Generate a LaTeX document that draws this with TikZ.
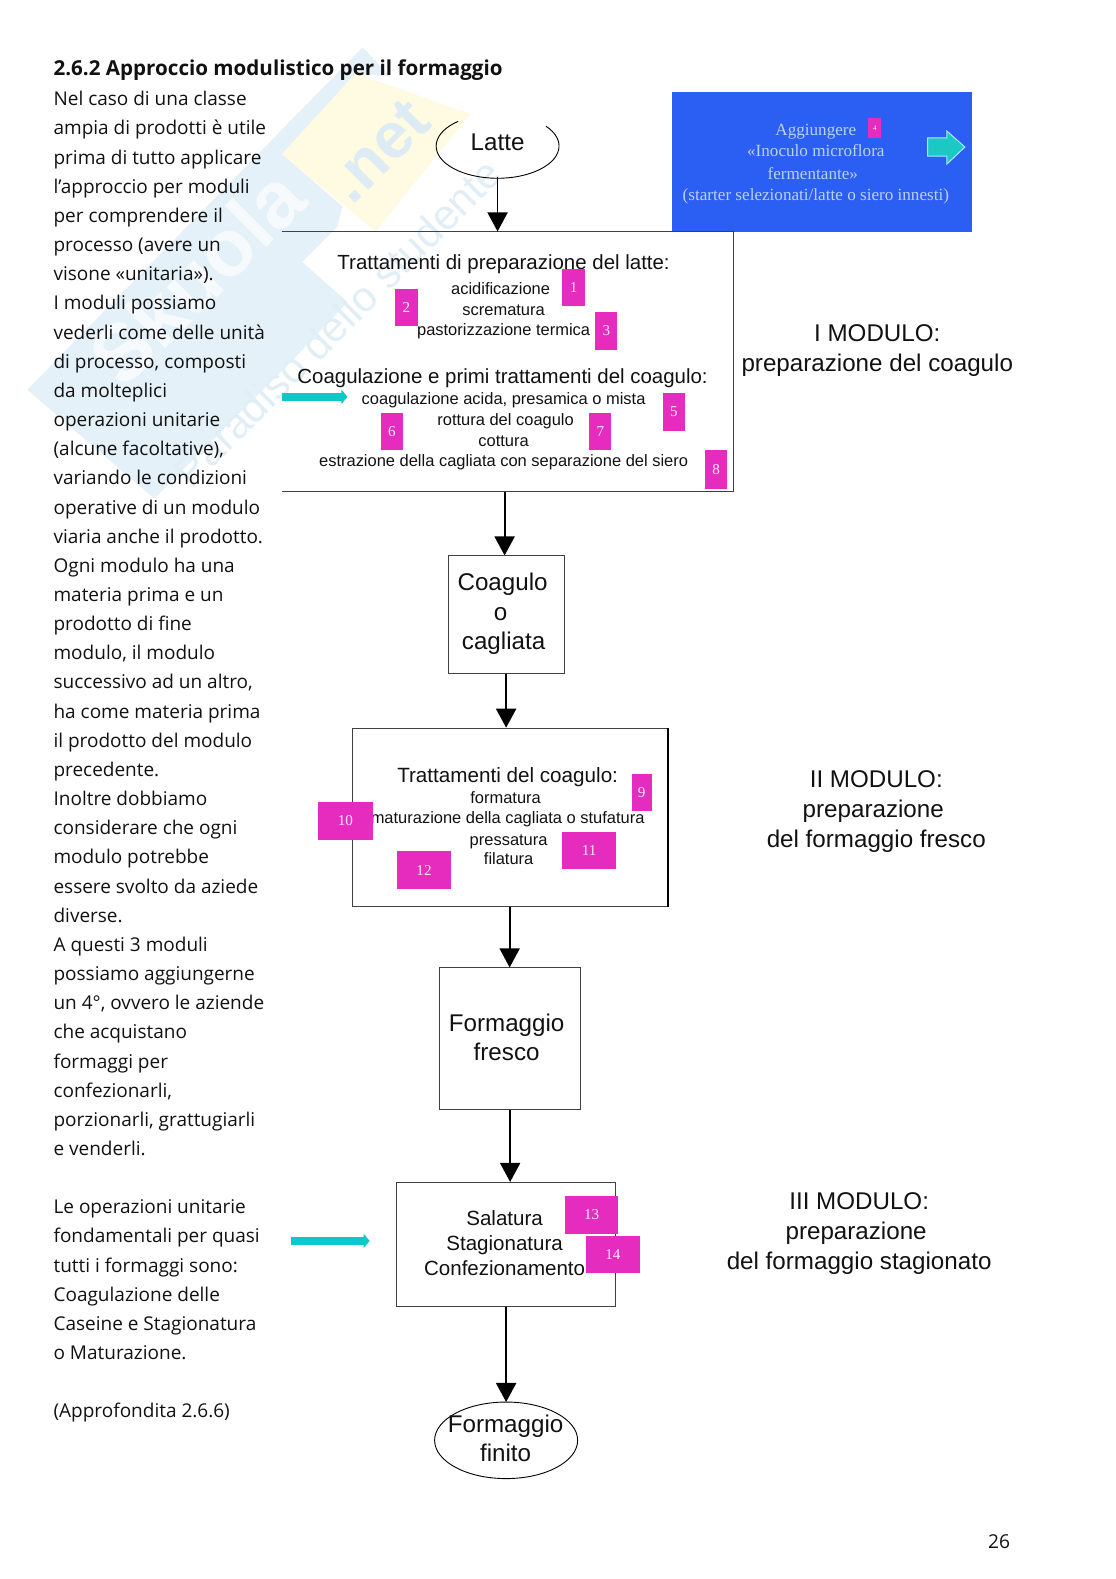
\documentclass[tikz,border=0pt]{standalone}
\usepackage{fontspec}
\setmainfont{Liberation Sans}
\newfontfamily\bodyfont{Open Sans}
\newfontfamily\seriffont{Liberation Serif}
\usetikzlibrary{arrows.meta,calc}
\definecolor{wmblue}{HTML}{E5F1F8}
\definecolor{wmletter}{HTML}{F6FAFD}
\definecolor{wmyellow}{HTML}{FEFBE2}
\definecolor{wmtext}{HTML}{E2EEF6}
\definecolor{wmnetc}{HTML}{DDEBF5}
\definecolor{pink}{HTML}{E62CBF}
\definecolor{panel}{HTML}{2B5EF2}
\definecolor{panelink}{HTML}{BCD2F2}
\definecolor{teal}{HTML}{0CC8C8}
\definecolor{blockarrow}{HTML}{1CC8C4}
\definecolor{ink}{HTML}{111111}
\newcommand{\fs}[1]{\fontsize{#1}{#1}\selectfont}
\tikzset{
 lbl/.style={inner sep=0pt,yshift=-1.8pt,text=ink,text height=0.72*#1pt,text depth=0.2*#1pt,font=\fs{#1}},
 lbl/.default=16.35,
 tag/.style={fill=pink,inner sep=0pt,text=white!90!pink,font=\seriffont\fs{15}},
 flow/.style={draw=black,line width=1.8pt,-{Triangle[length=19pt,width=20pt]}},
 frame/.style={draw=black!75,line width=1pt},
 tealarrow/.style={draw=teal,line width=7.5pt,-{Triangle[length=6pt,width=14pt]}},
 paneltext/.style={inner sep=0pt,yshift=-1.8pt,text=panelink,text height=12pt,text depth=4pt,font=\seriffont\fs{17}},
}
\newcommand{\tagbox}[5]{\node[tag,minimum width=#4-#2,minimum height=#5-#3] (#1) at ({(#2+#4)/2},{(#3+#5)/2}) {#1};}
\begin{document}
\begin{tikzpicture}[x=1pt,y=-1pt]
\useasboundingbox (0,0) rectangle (1108,1567.7);
% watermark
\fill[wmblue] (27,387) -- (360,47) -- (388,76) -- (353,73) -- (280,153) -- (340,205) -- (335,225) -- (300,260) -- (345,300) -- (290,358) -- (153,495) -- cycle;
\fill[wmyellow] (280,153) -- (353,73) -- (467,113) -- (373,230) -- cycle;
\node[rotate=45,font=\bfseries\fs{80},text=wmletter,inner sep=0] (wmname) at (195,275) {Skuola};
\node[rotate=45,font=\bfseries\fs{64},text=wmnetc,inner sep=0] (wmnet) at (376,150) {.net};
\node[rotate=45,font=\fs{42},text=wmtext,inner sep=0] (wmsub) at (335,320) {Paradiso dello studente};
% page text
\node[anchor=west,inner sep=0,font=\bodyfont\bfseries\fs{20.45},text=ink] (title) at (53,70) {2.6.2 Approccio modulistico per il formaggio};
\node[anchor=north west,inner sep=0,align=left,text=ink,font=\bodyfont\fontsize{18.85}{28.95}\selectfont] (body) at (53,90.5) {Nel caso di una classe\\ampia di prodotti è utile\\prima di tutto applicare\\l’approccio per moduli\\per comprendere il\\processo (avere un\\visone «unitaria»).\\I moduli possiamo\\vederli come delle unità\\di processo, composti\\da molteplici\\operazioni unitarie\\(alcune facoltative),\\variando le condizioni\\operative di un modulo\\viaria anche il prodotto.\\Ogni modulo ha una\\materia prima e un\\prodotto di fine\\modulo, il modulo\\successivo ad un altro,\\ha come materia prima\\il prodotto del modulo\\precedente.\\Inoltre dobbiamo\\considerare che ogni\\modulo potrebbe\\essere svolto da aziede\\diverse.\\A questi 3 moduli\\possiamo aggiungerne\\un 4°, ovvero le aziende\\che acquistano\\formaggi per\\confezionarli,\\porzionarli, grattugiarli\\e venderli.\\[28.95pt]Le operazioni unitarie\\fondamentali per quasi\\tutti i formaggi sono:\\Coagulazione delle\\Caseine e Stagionatura\\o Maturazione.\\[28.95pt](Approfondita 2.6.6)};
\node[inner sep=0,text=ink,font=\bodyfont\fs{19}] (pageno) at (992,1531) {26};
% blue panel
\node[fill=panel,inner sep=0,minimum width=298pt,minimum height=139pt] (panel) at (816,160.5) {};
\node[paneltext] (p1) at (810,129) {Aggiungere};
\node[paneltext] (p2) at (810,150) {«Inoculo microflora};
\node[paneltext] (p3) at (807,172) {fermentante»};
\node[paneltext] (p4) at (810,193) {(starter selezionati/latte o siero innesti)};
\node[fill=pink,inner sep=0,minimum width=13pt,minimum height=20pt,text=white,font=\seriffont\fs{7}] (4) at (868.5,127) {4};
\fill[draw=cyan!30,line width=1pt,fill=blockarrow] (921,137) -- (940,137) -- (940,130) -- (958,146) -- (940,163) -- (940,155) -- (921,155) -- cycle;
% Latte
\node[lbl=24] (latte) at (494,141) {Latte};
\coordinate (lattebottom) at (494,176);
\draw[black,line width=.9pt] (542.1,125.3) arc[start angle=38,end angle=-230,x radius=61pt,y radius=32pt];
% Module I
\node[inner sep=0,minimum width=448pt,minimum height=258pt] (mod) at (504,359) {};
\draw[frame] (mod.north west) -- (mod.north east) -- (mod.south east) -- (mod.south west);
\draw[flow] (lattebottom) -- (lattebottom |- mod.north);
\node[lbl=20.3] (m1) at (500,260) {Trattamenti di preparazione del latte:};
\node[lbl] (m2) at (497,286) {acidificazione};
\node[lbl] (m3) at (500,307) {scrematura};
\node[lbl] (m4) at (500,327) {pastorizzazione termica};
\node[lbl=20.3] (m5) at (499,374) {Coagulazione e primi trattamenti del coagulo:};
\node[lbl] (m6) at (500,396) {coagulazione acida, presamica o mista};
\node[lbl] (m7) at (502,416) {rottura del coagulo};
\node[lbl] (m8) at (500,437) {cottura};
\node[lbl] (m9) at (500,457) {estrazione della cagliata con separazione del siero};
\tagbox{1}{558}{267}{581}{304}
\tagbox{2}{392}{287}{415}{324}
\tagbox{3}{591}{310}{613}{347}
\tagbox{5}{658}{390}{680}{428}
\tagbox{6}{378}{410}{400}{447}
\tagbox{7}{585}{410}{607}{447}
\tagbox{8}{700}{447}{722}{485}
\coordinate (ta1) at (280,394);
\coordinate (ta2) at (345,394);
\draw[tealarrow] (ta1) -- (ta2);
\node[lbl=24] (l1a) at (871,331) {I MODULO:};
\node[lbl=24] (l1b) at (871,361) {preparazione del coagulo};
% Coagulo
\node[frame,inner sep=0,minimum width=115pt,minimum height=117pt] (coag) at (502.5,610.5) {};
\node[lbl=24] (c1) at (499,578) {Coagulo};
\node[lbl=24] (c2) at (497,608) {o};
\node[lbl=24] (c3) at (500,637) {cagliata};
\draw[flow] ($(mod.south)+(-3,0)$) -- ($(coag.north)+(-1.5,0)$);
% Module II
\node[frame,inner sep=0,minimum width=313pt,minimum height=177pt] (treat) at (506,811.5) {};
\draw[black,line width=1.8pt] (treat.north east) -- (treat.south east);
\draw[flow] (coag.south) -- (coag.south |- treat.north);
\node[lbl=20.5] (t1) at (504,770) {Trattamenti del coagulo:};
\node[lbl] (t2) at (502,792) {formatura};
\node[lbl] (t3) at (504,812) {maturazione della cagliata o stufatura};
\node[lbl] (t4) at (505,833) {pressatura};
\node[lbl] (t5) at (505,852) {filatura};
\tagbox{9}{627}{768}{647}{805}
\tagbox{10}{316}{796}{370}{834}
\tagbox{11}{558}{826}{612}{863}
\tagbox{12}{394}{845}{448}{883}
\node[lbl=24] (l2a) at (870,774) {II MODULO:};
\node[lbl=24] (l2b) at (867,804) {preparazione};
\node[lbl=24] (l2c) at (870,833) {del formaggio fresco};
% Fresco
\node[frame,inner sep=0,minimum width=140pt,minimum height=141pt] (fresh) at (506.5,1031.5) {};
\node[lbl=24] (f1) at (503,1016) {Formaggio};
\node[lbl=24] (f2) at (503,1045) {fresco};
\draw[flow] (treat.south) -- (treat.south |- fresh.north);
% Module III
\node[frame,inner sep=0,minimum width=217pt,minimum height=123pt] (sal) at (502.5,1235.5) {};
\node[lbl=20.4] (s1) at (501,1210) {Salatura};
\node[lbl=20.4] (s2) at (501,1234) {Stagionatura};
\node[lbl=20.4] (s3) at (501,1259) {Confezionamento};
\tagbox{13}{561}{1187}{614}{1225}
\tagbox{14}{582}{1227}{635}{1264}
\draw[flow] (fresh.south) -- (fresh.south |- sal.north);
\coordinate (tb1) at (289,1232);
\coordinate (tb2) at (367,1232);
\draw[tealarrow] (tb1) -- (tb2);
\node[lbl=24] (l3a) at (853,1193) {III MODULO:};
\node[lbl=24] (l3b) at (850,1223) {preparazione};
\node[lbl=24] (l3c) at (853,1252) {del formaggio stagionato};
% Finito
\draw[black,line width=.9pt] (502.5,1430) ellipse[x radius=71pt,y radius=38pt];
\coordinate (finishtop) at (502.5,1392);
\node[lbl=24] (e1) at (502,1414) {Formaggio};
\node[lbl=24] (e2) at (502,1443) {finito};
\draw[flow] (sal.south) -- (finishtop);
\end{tikzpicture}
\end{document}
